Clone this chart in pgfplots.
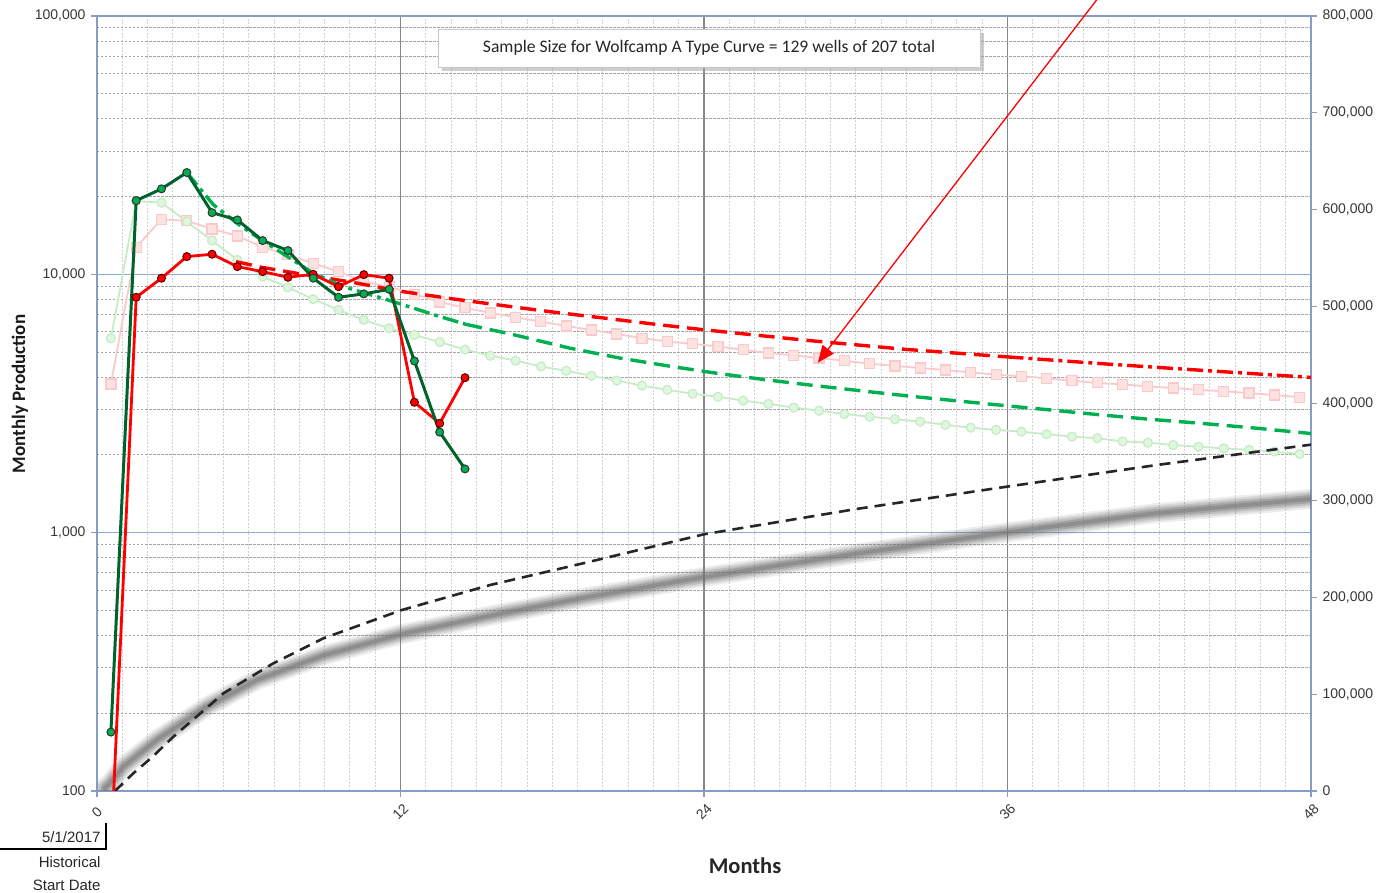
\documentclass[border=0pt]{standalone}
\usepackage{pgfplots}
\usepackage{pgfplotstable}
\pgfplotsset{compat=1.18}
\usepackage{fontspec}
\setmainfont{Liberation Sans}
\newfontfamily\calib{Carlito}
\usetikzlibrary{arrows.meta}

\definecolor{axblue}{RGB}{134,158,196}
\definecolor{gridblue}{RGB}{142,172,216}
\definecolor{vmaj}{RGB}{135,135,135}
\definecolor{hmin}{RGB}{165,165,165}
\definecolor{vmin}{RGB}{208,208,208}
\definecolor{dkgreen}{RGB}{0,98,45}
\definecolor{mgreen}{RGB}{0,176,80}
\definecolor{fgreen}{RGB}{0,176,80}
\definecolor{pinkl}{RGB}{253,226,226}
\definecolor{pinkm}{RGB}{250,202,202}
\definecolor{greenl}{RGB}{224,246,224}
\definecolor{greenm}{RGB}{198,236,198}
\definecolor{tickc}{RGB}{55,55,55}
\definecolor{mred}{RGB}{255,0,0}

\pgfplotstableread{
m v
0.3 3000
0.51 8000
1.04 25100
2.36 52600
4.34 87000
6.31 114600
8.95 140000
12.05 162000
15.54 181000
19.49 200600
24 220900
30 245000
35.7 266000
41.8 286600
47.96 301400
}\graycum

\pgfplotstableread{
m v
0.71 0
1.44 18300
2.2 35400
3.02 56100
5.0 100800
6.97 131800
8.95 157600
12.05 186800
15.54 212600
19.49 236700
24 265000
30 291000
35.7 313100
41.9 336500
48 357500
}\blackcum

\pgfplotsset{
  base/.style={at={(0pt,0pt)}, anchor=south west, scale only axis,
    width=1214pt, height=775pt, xmin=0, xmax=48, clip=true},
}

\begin{document}
\begin{tikzpicture}
\path[use as bounding box] (-97pt,-102pt) rectangle (1287pt,791pt);

% ---------- axis 1: left log axis, grid, faint series
\begin{axis}[base, ymode=log, ymin=100, ymax=100000,
  xtick={0,12,24,36,48}, minor x tick num=11,
  ytick={100,1000,10000,100000}, yticklabels={100,{1,000},{10,000},{100,000}},
  xmajorgrids, xminorgrids, ymajorgrids, yminorgrids,
  major x grid style={draw=vmaj, line width=1.1pt},
  minor x grid style={draw=vmin, line width=0.9pt, dash pattern=on 2pt off 1.5pt},
  major y grid style={draw=gridblue, line width=1.6pt},
  minor y grid style={draw=hmin, line width=0.9pt, dash pattern=on 2.5pt off 1.5pt},
  axis line style={draw=axblue, line width=1.6pt},
  tick align=outside, major tick length=6pt, minor tick length=0pt,
  major tick style={draw=axblue, line width=1.2pt},
  xtick pos=left, ytick pos=left,
  ticklabel style={font=\fontsize{14pt}{16pt}\selectfont, text=tickc},
  /pgf/number format/assume math mode=true,
  xticklabel style={rotate=45, anchor=center},
  xticklabel shift=15pt,
  yticklabel style={xshift=-2pt},
]
\addplot[draw=pinkm, line width=1.8pt, mark=square*, mark size=5pt,
  mark options={fill=pinkl, draw=pinkm, line width=1.2pt}] coordinates {
(0.55,3763) (1.55,12730) (2.55,16340) (3.55,16100) (4.55,14990) (5.55,14080)
(6.55,12730) (7.55,11890) (8.55,11040) (9.55,10240) (10.55,9370) (11.55,8960)
(12.55,8380) (13.55,7820) (14.55,7420) (15.55,7090) (16.55,6820) (17.55,6560)
(18.55,6310) (19.55,6090) (20.55,5880) (21.55,5660) (22.55,5490) (23.55,5380)
(24.55,5260) (25.55,5100) (26.55,4960) (27.55,4860) (28.55,4740) (29.55,4630)
(30.55,4510) (31.55,4420) (32.55,4340) (33.55,4260) (34.55,4170) (35.55,4090)
(36.55,4030) (37.55,3960) (38.55,3870) (39.55,3800) (40.55,3750) (41.55,3680)
(42.55,3630) (43.55,3570) (44.55,3530) (45.55,3470) (46.55,3410) (47.55,3345)};
\addplot[draw=greenm, line width=1.8pt, mark=*, mark size=4.5pt,
  mark options={fill=greenl, draw=greenm, line width=1.2pt}] coordinates {
(0.55,5656) (1.55,19200) (2.55,18950) (3.55,16000) (4.55,13510) (5.55,11370)
(6.55,9800) (7.55,8910) (8.55,8010) (9.55,7280) (10.55,6660) (11.55,6180)
(12.55,5825) (13.55,5470) (14.55,5110) (15.55,4840) (16.55,4630) (17.55,4400)
(18.55,4230) (19.55,4050) (20.55,3880) (21.55,3710) (22.55,3570) (23.55,3450)
(24.55,3360) (25.55,3245) (26.55,3150) (27.55,3050) (28.55,2965) (29.55,2880)
(30.55,2810) (31.55,2750) (32.55,2690) (33.55,2615) (34.55,2550) (35.55,2500)
(36.55,2460) (37.55,2405) (38.55,2355) (39.55,2320) (40.55,2255) (41.55,2230)
(42.55,2185) (43.55,2150) (44.55,2120) (45.55,2090) (46.55,2060) (47.55,2017)};
\end{axis}

% ---------- axis 2: right linear axis (cumulative)
\begin{axis}[base, ymin=0, ymax=800000,
  axis y line*=right, axis x line=none,
  ytick={0,100000,200000,300000,400000,500000,600000,700000,800000},
  yticklabels={0,{100,000},{200,000},{300,000},{400,000},{500,000},{600,000},{700,000},{800,000}},
  axis line style={draw=axblue, line width=1.6pt},
  tick align=outside, major tick length=6pt, minor tick length=0pt,
  major tick style={draw=axblue, line width=1.2pt},
  ticklabel style={font=\fontsize{14pt}{16pt}\selectfont, text=tickc},
  yticklabel style={xshift=2pt},
]
\addplot[draw=black!55, opacity=0.12, line width=20pt, line cap=round] table[x=m,y=v] {\graycum};
\addplot[draw=black!55, opacity=0.18, line width=16pt, line cap=round] table[x=m,y=v] {\graycum};
\addplot[draw=black!55, opacity=0.25, line width=12pt, line cap=round] table[x=m,y=v] {\graycum};
\addplot[draw=black!55, opacity=0.35, line width=8pt, line cap=round] table[x=m,y=v] {\graycum};
\addplot[draw=black!55, opacity=0.45, line width=4pt, line cap=round] table[x=m,y=v] {\graycum};
\addplot[draw=black!85, line width=2.6pt, dash pattern=on 11pt off 7pt] table[x=m,y=v] {\blackcum};
\end{axis}

% ---------- axis 3: forecasts and actuals on the log scale
\begin{axis}[base, ymode=log, ymin=100, ymax=100000, hide axis]
% red forecast
\addplot[draw=mred, line width=3.4pt, dash pattern=on 16pt off 8pt] coordinates {
(5.5,11200) (6.5,10650) (8,10050) (10,9350) (12,8600) (14,8050) (16,7580)
(18,7150) (20,6780) (22,6420) (24,6100) (28,5560) (32,5120) (36,4790)};
\addplot[draw=mred, line width=3.4pt, dash pattern=on 16pt off 5pt on 4pt off 5pt] coordinates {
(36,4790) (40,4490) (44,4230) (48,3990)};
% green forecast
\addplot[draw=fgreen, line width=3.4pt, dash pattern=on 16pt off 5pt on 4pt off 5pt] coordinates {
(3.55,24770) (4.6,18600) (5.6,15600) (6.6,13390) (7.6,11600) (8.55,10100)
(9.74,8965) (11.5,7960) (13.56,6860) (14.6,6400)};
\addplot[draw=fgreen, line width=3.4pt, dash pattern=on 16pt off 8pt] coordinates {
(14.6,6400) (16.5,5830) (18.7,5176) (20.7,4735) (22.75,4393) (24.5,4140)
(26.5,3901) (28.5,3698) (30.5,3515) (32.3,3363) (34.3,3216) (36.3,3075)
(37.7,2985) (39.7,2856) (41.6,2748) (43.6,2652) (45.6,2550) (48,2420)};
% red actual
\addplot[draw=mred, line width=2.8pt, mark=*, mark size=4pt,
  mark options={fill=mred, draw=black!65!red, line width=1pt, solid}] coordinates {
(0.55,58) (1.55,8150) (2.55,9660) (3.55,11710) (4.55,11960) (5.55,10710)
(6.55,10240) (7.55,9740) (8.55,10000) (9.55,8960) (10.55,9970) (11.55,9660)
(12.55,3197) (13.55,2650) (14.55,3980)};
% green actual
\addplot[draw=dkgreen, line width=3pt, mark=*, mark size=4pt,
  mark options={fill=mgreen, draw=black!80, line width=1pt, solid}] coordinates {
(0.55,169) (1.55,19290) (2.55,21420) (3.55,24770) (4.55,17330) (5.55,16240)
(6.55,13510) (7.55,12360) (8.55,9660) (9.55,8150) (10.55,8400) (11.55,8750)
(12.55,4620) (13.55,2450) (14.55,1765)};
\coordinate (arrS) at (axis cs:39.6,118000);
\coordinate (arrE) at (axis cs:28.5,4550);
\end{axis}

% annotation arrow
\draw[mred, line width=1.3pt, -{Triangle[length=17pt,width=14pt]}] (arrS) -- (arrE);

% text box
\fill[black!35, opacity=0.55] (345pt,720pt) rectangle (887pt,758pt);
\draw[draw=black!22, fill=white, line width=0.8pt] (341pt,724pt) rectangle (883pt,762pt);
\node[font=\calib\fontsize{17.6pt}{20pt}\selectfont, text=black!85] at (612pt,743pt)
  {Sample Size for Wolfcamp A Type Curve = 129 wells of 207 total};

% axis titles
\node[rotate=90, font=\calib\bfseries\fontsize{19pt}{22pt}\selectfont, text=black!90] at (-77pt,397pt) {Monthly Production};
\node[font=\calib\bfseries\fontsize{22.5pt}{26pt}\selectfont, text=black!85] at (648pt,-75pt) {Months};

% historical start date marker
\draw[black, line width=1.3pt] (-97pt,-58pt) -- (9pt,-58pt) -- (9pt,-32pt);
\node[anchor=east, font=\fontsize{15pt}{17pt}\selectfont, text=black!85] at (7pt,-46pt) {5/1/2017};
\node[anchor=east, font=\fontsize{15pt}{17pt}\selectfont, text=black!85] at (7pt,-71pt) {Historical};
\node[anchor=east, font=\fontsize{15pt}{17pt}\selectfont, text=black!85] at (7pt,-94pt) {Start Date};
\end{tikzpicture}
\end{document}
